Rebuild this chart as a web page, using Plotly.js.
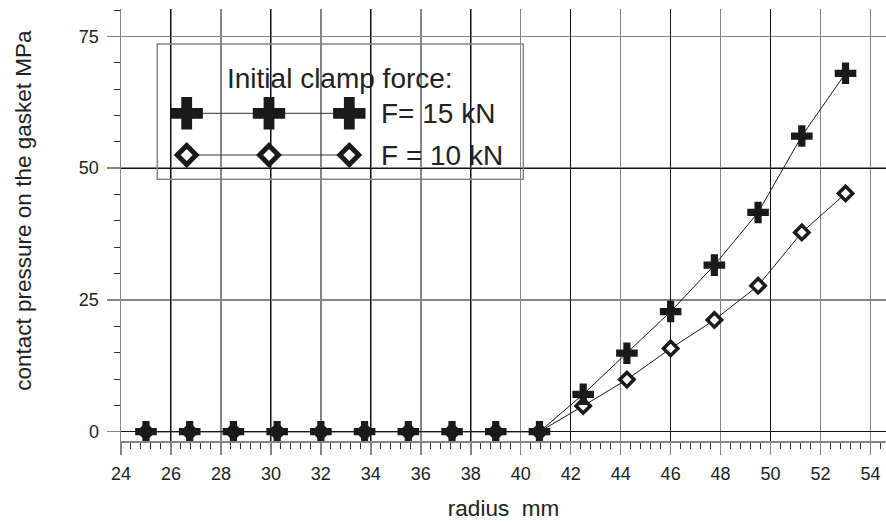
<!DOCTYPE html>
<html><head><meta charset="utf-8">
<script src="https://cdn.plot.ly/plotly-3.0.1.min.js"></script>
<style>body{margin:0;background:#fff}</style></head>
<body><div id="chart" style="width:886px;height:522px"></div>
<script>
// ---- data ----
const radius     = [25.0, 26.75, 28.5, 30.25, 32.0, 33.75, 35.5, 37.25, 39.0, 40.75, 42.5, 44.25, 46.0, 47.75, 49.5, 51.25, 53.0];
const pressure15 = [0, 0, 0, 0, 0, 0, 0, 0, 0, 0, 7.1, 14.9, 22.8, 31.6, 41.6, 56.1, 68.0];
const pressure10 = [0, 0, 0, 0, 0, 0, 0, 0, 0, 0, 4.9, 9.9, 15.8, 21.2, 27.7, 37.8, 45.2];
const seriesNames = ['F= 15 kN', 'F = 10 kN'];
const legendTitle = 'Initial clamp force:';
const xTitle = 'radius\u00a0 mm';
const yTitle = 'contact pressure on the gasket MPa';

// ---- styling / layout constants ----
const FONT = 'Liberation Sans, Arial, Helvetica, sans-serif';
const INK = '#1a1a1a';
const GRAY = '#858585';
const xRange = [24, 54.62];
const yRange = [-1.76, 80.2];
const blackGridX = [26, 30, 34, 38, 42, 46, 50];
const blackGridY = [0, 50];
// legend drawn in pixel-like coordinates of an overlay axis
const legPxX = [121, 886];
const legPxY = [441, 9];
const legSampleX = [186.7, 269, 349.3];
const legRowY = [113.3, 155];

const traces = [
  {x: radius, y: pressure10, name: seriesNames[1], mode: 'lines+markers',
   line: {color: INK, width: 1},
   marker: {symbol: 'diamond', size: 11, color: 'white', line: {color: INK, width: 3.5}},
   hoverinfo: 'skip'},
  {x: radius, y: pressure15, name: seriesNames[0], mode: 'lines+markers',
   line: {color: INK, width: 1},
   marker: {symbol: 'cross', size: 18, color: INK},
   hoverinfo: 'skip'},
  {x: [], y: [], xaxis: 'x2', yaxis: 'y2', hoverinfo: 'skip'},
  {x: legSampleX, y: legSampleX.map(() => legRowY[0]), xaxis: 'x3', yaxis: 'y3', mode: 'lines+markers',
   line: {color: '#333', width: 1},
   marker: {symbol: 'cross', size: 27, color: INK}, hoverinfo: 'skip'},
  {x: legSampleX, y: legSampleX.map(() => legRowY[1]), xaxis: 'x3', yaxis: 'y3', mode: 'lines+markers',
   line: {color: '#333', width: 1},
   marker: {symbol: 'diamond', size: 14.5, color: 'white', line: {color: INK, width: 5}}, hoverinfo: 'skip'}
];

const layout = {
  width: 886, height: 522,
  margin: {l: 121, r: 0, t: 9, b: 81},
  paper_bgcolor: 'white', plot_bgcolor: 'rgba(0,0,0,0)',
  showlegend: false,
  font: {family: FONT, color: '#222'},
  xaxis: {
    range: xRange, tick0: 24, dtick: 2, ticks: 'outside', ticklen: 12, tickwidth: 1.5, tickcolor: GRAY,
    showline: true, linecolor: GRAY, linewidth: 1.5, showgrid: true, gridcolor: GRAY, gridwidth: 1.5,
    zeroline: false, tickfont: {size: 18, color: '#222'}, ticklabelstandoff: 4,
    minor: {dtick: 0.4, ticks: 'outside', ticklen: 6, tickwidth: 1, tickcolor: '#333', showgrid: false},
    title: {text: xTitle, font: {size: 22.5, color: '#222'}, standoff: 17},
    fixedrange: true
  },
  yaxis: {
    range: yRange, tick0: 0, dtick: 25, ticks: 'outside', ticklen: 13, tickwidth: 1.5, tickcolor: GRAY,
    showline: true, linecolor: GRAY, linewidth: 1.5, showgrid: true, gridcolor: GRAY, gridwidth: 1.5,
    zeroline: false, tickfont: {size: 18, color: '#222'}, ticklabelstandoff: 4,
    minor: {dtick: 5, ticks: 'outside', ticklen: 6, tickwidth: 1, tickcolor: '#333', showgrid: false},
    fixedrange: true
  },
  xaxis2: {overlaying: 'x', range: xRange, tickmode: 'array', tickvals: blackGridX, showgrid: true,
    gridcolor: '#111', gridwidth: 1, showticklabels: false, ticks: '', showline: false, zeroline: false, fixedrange: true},
  yaxis2: {overlaying: 'y', range: yRange, tickmode: 'array', tickvals: blackGridY, showgrid: true,
    gridcolor: '#111', gridwidth: 1, showticklabels: false, ticks: '', showline: false, zeroline: false, fixedrange: true},
  xaxis3: {overlaying: 'x', range: legPxX, visible: false, fixedrange: true},
  yaxis3: {overlaying: 'y', range: legPxY, visible: false, fixedrange: true},
  shapes: [
    {type: 'rect', xref: 'x3', yref: 'y3', x0: 157.3, x1: 523.3, y0: 44, y1: 179.3,
     line: {color: GRAY, width: 1.5}, fillcolor: 'rgba(0,0,0,0)'}
  ],
  annotations: [
    {xref: 'paper', yref: 'paper', x: -0.127, y: 0.535, text: yTitle, showarrow: false, textangle: -90,
     xanchor: 'center', yanchor: 'middle', font: {size: 22.5, color: '#222'}},
    {xref: 'x3', yref: 'y3', x: 339.5, y: 78.3, text: legendTitle, showarrow: false,
     xanchor: 'center', yanchor: 'middle', font: {size: 28, color: '#222'}},
    {xref: 'x3', yref: 'y3', x: 379, y: legRowY[0], text: seriesNames[0], showarrow: false,
     xanchor: 'left', yanchor: 'middle', font: {size: 28, color: '#222'}},
    {xref: 'x3', yref: 'y3', x: 379, y: legRowY[1], text: seriesNames[1], showarrow: false,
     xanchor: 'left', yanchor: 'middle', font: {size: 28, color: '#222'}}
  ]
};

Plotly.newPlot('chart', traces, layout, {displayModeBar: false, staticPlot: true});
</script>
</body></html>
